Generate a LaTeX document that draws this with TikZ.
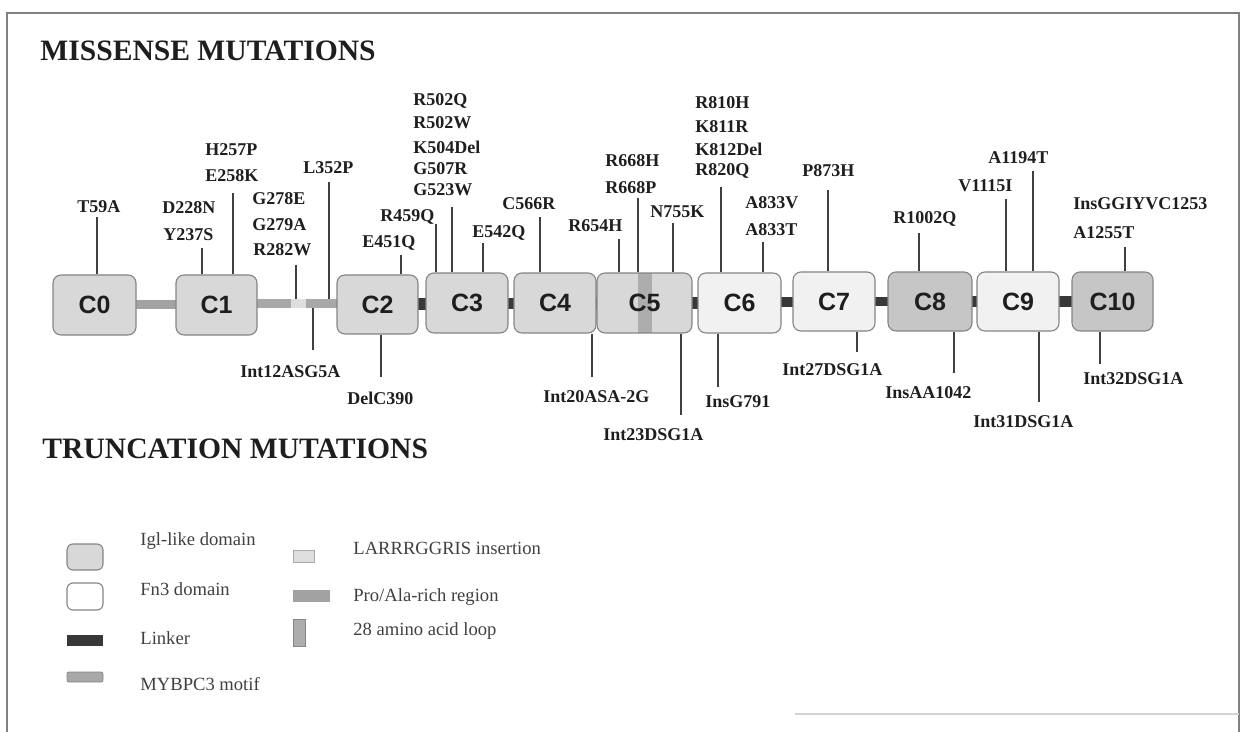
\documentclass[tikz,border=0pt]{standalone}
\usepackage{fontspec}
\setmainfont{Liberation Serif}
\newfontfamily\domfont{Liberation Sans}
\definecolor{igl}{HTML}{D8D8D8}
\definecolor{fnthree}{HTML}{F1F1F1}
\definecolor{igldark}{HTML}{C6C6C6}
\definecolor{motifc}{HTML}{A8A8A8}
\definecolor{insertc}{HTML}{DEDEDE}
\definecolor{proalac}{HTML}{A2A2A2}
\definecolor{loopc}{HTML}{ADADAD}
\definecolor{linkerc}{HTML}{383838}
\definecolor{edgec}{HTML}{858585}
\definecolor{txtc}{HTML}{1E1E1E}
\definecolor{framec}{HTML}{808080}
\tikzset{
  dom/.style={draw=edgec, line width=0.55pt, rounded corners=4pt, inner sep=0pt,
    font=\domfont\bfseries\fontsize{12.5}{14}\selectfont, text=txtc},
  barbox/.style={draw=none, inner sep=0pt, outer sep=0pt},
  lab/.style={anchor=west, inner sep=0pt, text=txtc, font=\bfseries\fontsize{9}{10}\selectfont},
  legtext/.style={anchor=west, inner sep=0pt, text=txtc!85, font=\fontsize{9.3}{11}\selectfont},
  title/.style={anchor=base west, inner sep=0pt, text=txtc, font=\bfseries\fontsize{14.8}{18}\selectfont},
  tick/.style={draw=txtc!85, line width=0.55pt},
}
\begin{document}
\begin{tikzpicture}[x=0.5pt, y=-0.5pt]
\useasboundingbox (0,0) rectangle (1245,732);
% frame
\draw[framec, line width=0.6pt] (7,732) -- (7,13) -- (1239,13) -- (1239,732);
\draw[framec!35, line width=0.6pt] (795,714) -- (1239,714);

% titles
\node[title] (t1) at (40,61) {MISSENSE MUTATIONS};
\node[title] (t2) at (42,458) {TRUNCATION MUTATIONS};

% bars and linkers (behind boxes)
\node[barbox, fill=proalac, minimum width=22pt, minimum height=4.5pt] (pa) at (156,304.5) {};
\node[barbox, fill=motifc, minimum width=42pt, minimum height=4.5pt] (mb) at (297,303.5) {};
\node[barbox, fill=insertc, minimum width=7.5pt, minimum height=4.5pt] (ins) at (298.5,303.5) {};
\node[barbox, fill=linkerc, minimum width=5pt, minimum height=6pt] (l23) at (422,304) {};
\node[barbox, fill=linkerc, minimum width=4pt, minimum height=5.5pt] (l34) at (511,303.5) {};
\node[barbox, fill=linkerc, minimum width=1.5pt, minimum height=6pt] (l45) at (596.5,303) {};
\node[barbox, fill=linkerc, minimum width=4pt, minimum height=5.5pt] (l56) at (695,303) {};
\node[barbox, fill=linkerc, minimum width=7pt, minimum height=5pt] (l67) at (787,302) {};
\node[barbox, fill=linkerc, minimum width=7.5pt, minimum height=4.5pt] (l78) at (881.5,301.5) {};
\node[barbox, fill=linkerc, minimum width=3pt, minimum height=5pt] (l89) at (974.5,301.5) {};
\node[barbox, fill=linkerc, minimum width=7.5pt, minimum height=5pt] (l910) at (1065.5,301.5) {};

% domains
\node[dom, fill=igl, minimum width=41.5pt, minimum height=30pt] (C0) at (94.5,305) {C0};
\node[dom, fill=igl, minimum width=40.5pt, minimum height=30pt] (C1) at (216.5,305) {C1};
\node[dom, fill=igl, minimum width=40.5pt, minimum height=29.5pt] (C2) at (377.5,304.5) {C2};
\node[dom, fill=igl, minimum width=41pt, minimum height=30pt] (C3) at (467,303) {C3};
\node[dom, fill=igl, minimum width=41pt, minimum height=30pt] (C4) at (555,303) {C4};
\node[dom, fill=igl, minimum width=47.5pt, minimum height=30pt,
  path picture={\fill[loopc, sharp corners] ([xshift=20.5pt]path picture bounding box.south west) rectangle ([xshift=27.5pt]path picture bounding box.north west);}] (C5) at (644.5,303) {C5};
\node[dom, fill=fnthree, minimum width=41.5pt, minimum height=30pt] (C6) at (739.5,303) {C6};
\node[dom, fill=fnthree, minimum width=41pt, minimum height=29.5pt] (C7) at (834,301.5) {C7};
\node[dom, fill=igldark, minimum width=42pt, minimum height=29.5pt] (C8) at (930,301.5) {C8};
\node[dom, fill=fnthree, minimum width=41pt, minimum height=29.5pt] (C9) at (1018,301.5) {C9};
\node[dom, fill=igldark, minimum width=40.5pt, minimum height=29.5pt] (C10) at (1112.5,301.5) {C10};

% missense labels
\node[lab] (m1) at (77,207) {T59A};
\node[lab] (m2) at (162,208) {D228N};
\node[lab] (m3) at (163,235) {Y237S};
\node[lab] (m4) at (205,150) {H257P};
\node[lab] (m5) at (205,176) {E258K};
\node[lab] (m6) at (252,199) {G278E};
\node[lab] (m7) at (252,225) {G279A};
\node[lab] (m8) at (253,250) {R282W};
\node[lab] (m9) at (303,168) {L352P};
\node[lab] (m10) at (362,243) {E451Q};
\node[lab] (m11) at (380,217) {R459Q};
\node[lab] (m12) at (413,101) {R502Q};
\node[lab] (m13) at (413,123) {R502W};
\node[lab] (m14) at (413,147) {K504Del};
\node[lab] (m15) at (413,169) {G507R};
\node[lab] (m16) at (413,190) {G523W};
\node[lab] (m17) at (472,233) {E542Q};
\node[lab] (m18) at (502,204) {C566R};
\node[lab] (m19) at (568,226) {R654H};
\node[lab] (m20) at (605,161) {R668H};
\node[lab] (m21) at (605,188) {R668P};
\node[lab] (m22) at (650,212) {N755K};
\node[lab] (m23) at (695,103) {R810H};
\node[lab] (m24) at (695,127) {K811R};
\node[lab] (m25) at (695,149) {K812Del};
\node[lab] (m26) at (695,171) {R820Q};
\node[lab] (m27) at (745,203) {A833V};
\node[lab] (m28) at (745,230) {A833T};
\node[lab] (m29) at (802,171) {P873H};
\node[lab] (m30) at (893,219) {R1002Q};
\node[lab] (m31) at (958,186) {V1115I};
\node[lab] (m32) at (988,158) {A1194T};
\node[lab] (m33) at (1073,204) {InsGGIYVC1253};
\node[lab] (m34) at (1073,233) {A1255T};

% truncation labels
\node[lab] (b1) at (240,372) {Int12ASG5A};
\node[lab] (b2) at (347,398) {DelC390};
\node[lab] (b3) at (543,397) {Int20ASA-2G};
\node[lab] (b4) at (603,435) {Int23DSG1A};
\node[lab] (b5) at (705,402) {InsG791};
\node[lab] (b6) at (782,370) {Int27DSG1A};
\node[lab] (b7) at (885,393) {InsAA1042};
\node[lab] (b8) at (973,422) {Int31DSG1A};
\node[lab] (b9) at (1083,379) {Int32DSG1A};

% tick end points
\coordinate (u1) at (97,217);
\coordinate (u2) at (202,248);
\coordinate (u3) at (233,193);
\coordinate (u4) at (296,265);
\coordinate (u5) at (329,182);
\coordinate (u6) at (401,255);
\coordinate (u7) at (436,224);
\coordinate (u8) at (452,207);
\coordinate (u9) at (483,243);
\coordinate (u10) at (540,217);
\coordinate (u11) at (619,239);
\coordinate (u12) at (638,198);
\coordinate (u13) at (673,223);
\coordinate (u14) at (721,187);
\coordinate (u15) at (763,242);
\coordinate (u16) at (828,190);
\coordinate (u17) at (919,233);
\coordinate (u18) at (1006,199);
\coordinate (u19) at (1033,171);
\coordinate (u20) at (1125,247);
\coordinate (d1) at (313,350);
\coordinate (d2) at (381,377);
\coordinate (d3) at (592,377);
\coordinate (d4) at (681,415);
\coordinate (d5) at (718,387);
\coordinate (d6) at (857,352);
\coordinate (d7) at (954,373);
\coordinate (d8) at (1039,402);
\coordinate (d9) at (1100,364);

% ticks
\draw[tick] (u1) -- (u1 |- C0.north);
\draw[tick] (u2) -- (u2 |- C1.north);
\draw[tick] (u3) -- (u3 |- C1.north);
\draw[tick] (u4) -- (u4 |- mb.north);
\draw[tick] (u5) -- (u5 |- mb.north);
\draw[tick] (u6) -- (u6 |- C2.north);
\draw[tick] (u7) -- (u7 |- C3.north);
\draw[tick] (u8) -- (u8 |- C3.north);
\draw[tick] (u9) -- (u9 |- C3.north);
\draw[tick] (u10) -- (u10 |- C4.north);
\draw[tick] (u11) -- (u11 |- C5.north);
\draw[tick] (u12) -- (u12 |- C5.north);
\draw[tick] (u13) -- (u13 |- C5.north);
\draw[tick] (u14) -- (u14 |- C6.north);
\draw[tick] (u15) -- (u15 |- C6.north);
\draw[tick] (u16) -- (u16 |- C7.north);
\draw[tick] (u17) -- (u17 |- C8.north);
\draw[tick] (u18) -- (u18 |- C9.north);
\draw[tick] (u19) -- (u19 |- C9.north);
\draw[tick] (u20) -- (u20 |- C10.north);
\draw[tick] (d1 |- mb.south) -- (d1);
\draw[tick] (d2 |- C2.south) -- (d2);
\draw[tick] (d3 |- C4.south) -- (d3);
\draw[tick] (d4 |- C5.south) -- (d4);
\draw[tick] (d5 |- C6.south) -- (d5);
\draw[tick] (d6 |- C7.south) -- (d6);
\draw[tick] (d7 |- C8.south) -- (d7);
\draw[tick] (d8 |- C9.south) -- (d8);
\draw[tick] (d9 |- C10.south) -- (d9);

% legend
\node[dom, fill=igl, rounded corners=3pt, minimum width=18pt, minimum height=13pt] (kigl) at (85,557) {};
\node[dom, fill=white, rounded corners=3pt, minimum width=18pt, minimum height=13.5pt] (kfn) at (85,596.5) {};
\node[barbox, fill=linkerc, minimum width=18pt, minimum height=5.5pt] (klk) at (85,640.5) {};
\node[barbox, draw=edgec, line width=0.4pt, fill=motifc, rounded corners=1pt, minimum width=18pt, minimum height=5pt] (kmb) at (85,677) {};
\node[barbox, draw=edgec!70, line width=0.4pt, fill=insertc, minimum width=10.5pt, minimum height=6pt] (kins) at (303.5,556) {};
\node[barbox, fill=proalac, minimum width=18.5pt, minimum height=6pt] (kpa) at (311.5,596) {};
\node[barbox, draw=edgec, line width=0.4pt, fill=loopc, minimum width=6pt, minimum height=13.5pt] (kloop) at (299,632.5) {};
\node[legtext] (lt1) at (140,541) {Igl-like domain};
\node[legtext] (lt2) at (140,589) {Fn3 domain};
\node[legtext] (lt3) at (140,638) {Linker};
\node[legtext] (lt4) at (140,684) {MYBPC3 motif};
\node[legtext] (lt5) at (353,548) {LARRRGGRIS insertion};
\node[legtext] (lt6) at (353,597) {Pro/Ala-rich region};
\node[legtext] (lt7) at (353,631) {28 amino acid loop};
\end{tikzpicture}
\end{document}
